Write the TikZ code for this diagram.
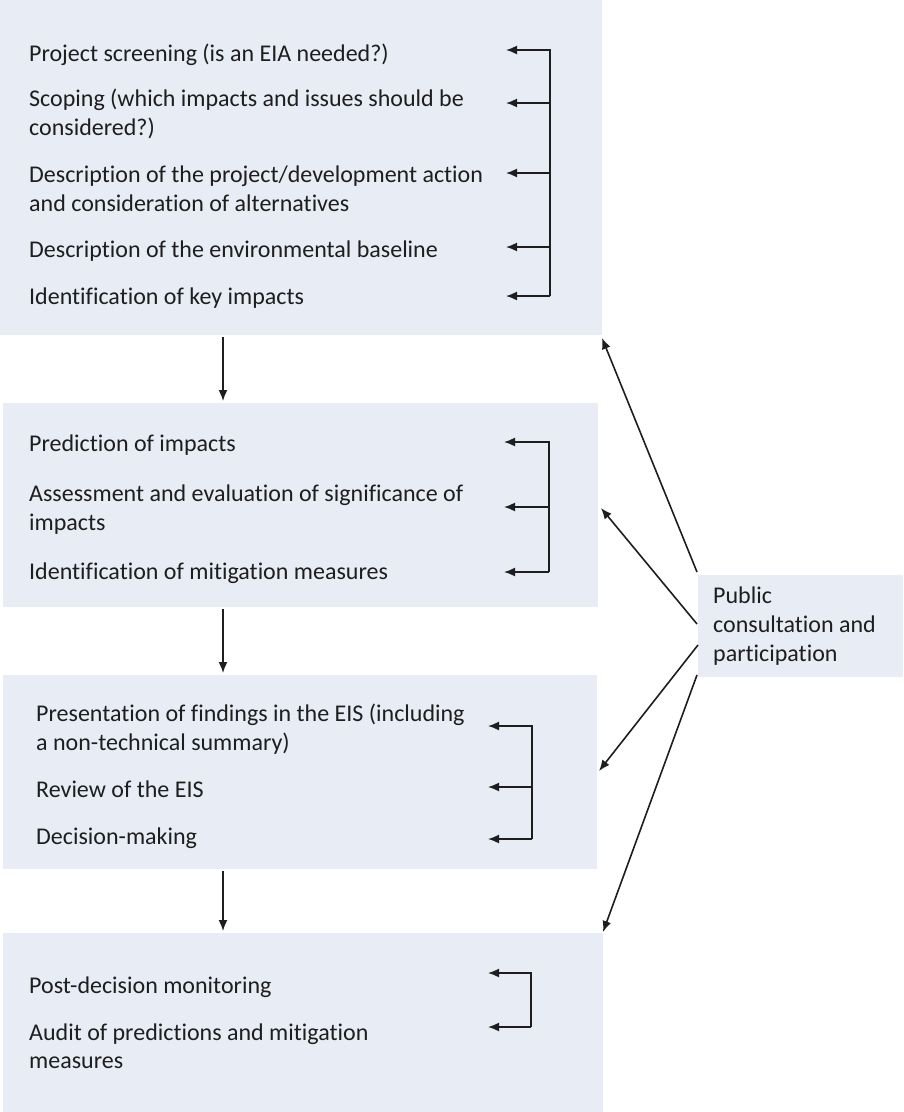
\documentclass[tikz,border=0pt]{standalone}
\usepackage{fontspec}
\setmainfont{Carlito}[Ligatures=NoCommon]
\usetikzlibrary{arrows.meta}
\definecolor{boxblue}{RGB}{231,236,245}
\definecolor{inkgray}{RGB}{30,30,30}
\begin{document}
\begin{tikzpicture}[x=1pt,y=-1pt,
  box/.style={fill=boxblue,draw=none,anchor=north west,inner sep=0pt},
  txt/.style={anchor=base west,inner sep=0pt,text=inkgray,font=\fontsize{24}{29}\selectfont},
  arr/.style={draw=inkgray,line width=1.6pt,-{Latex[length=11pt,width=9pt]}}]
\useasboundingbox (0,0) rectangle (903,1112);
% boxes
\node[box,minimum width=602pt,minimum height=335pt] (B1) at (0,0) {};
\node[box,minimum width=595pt,minimum height=204pt] (B2) at (3,403) {};
\node[box,minimum width=594pt,minimum height=194pt] (B3) at (3,675) {};
\node[box,minimum width=600pt,minimum height=179pt] (B4) at (3,933) {};
\node[box,minimum width=205pt,minimum height=102pt] (P) at (698,575) {};
% box 1 text
\node[txt] (t11) at (29,61) {Project screening (is an EIA needed?)};
\node[txt] (t12) at (29,106) {Scoping (which impacts and issues should be};
\node[txt] (t12b) at (29,135) {considered?)};
\node[txt] (t13) at (29,182) {Description of the project/development action};
\node[txt] (t13b) at (29,211) {and consideration of alternatives};
\node[txt] (t14) at (29,257) {Description of the environmental baseline};
\node[txt] (t15) at (29,304) {Identification of key impacts};
% box 2 text
\node[txt] (t21) at (29,451) {Prediction of impacts};
\node[txt] (t22) at (29,501) {Assessment and evaluation of significance of};
\node[txt] (t22b) at (29,530) {impacts};
\node[txt] (t23) at (29,579) {Identification of mitigation measures};
% box 3 text
\node[txt] (t31) at (36,721) {Presentation of findings in the EIS (including};
\node[txt] (t31b) at (36,750) {a non-technical summary)};
\node[txt] (t32) at (36,797) {Review of the EIS};
\node[txt] (t33) at (36,844) {Decision-making};
% box 4 text
\node[txt] (t41) at (29,993) {Post-decision monitoring};
\node[txt] (t42) at (29,1040) {Audit of predictions and mitigation};
\node[txt] (t42b) at (29,1068) {measures};
% public text
\node[txt] (p1) at (713,603) {Public};
\node[txt] (p2) at (713,632) {consultation and};
\node[txt] (p3) at (713,661) {participation};
% bracket 1
\coordinate (a11) at (506,50);
\coordinate (a12) at (506,103);
\coordinate (a13) at (506,173);
\coordinate (a14) at (506,247);
\coordinate (a15) at (506,296);
\draw[arr] (550,296) -- (550,50) -- (a11);
\draw[arr] (550,296) -- (a15);
\draw[arr] (550,103) -- (a12);
\draw[arr] (550,173) -- (a13);
\draw[arr] (550,247) -- (a14);
% bracket 2
\coordinate (a21) at (504,442);
\coordinate (a22) at (504,507);
\coordinate (a23) at (504,572);
\draw[arr] (549,572) -- (549,442) -- (a21);
\draw[arr] (549,572) -- (a23);
\draw[arr] (549,507) -- (a22);
% bracket 3
\coordinate (a31) at (488,726);
\coordinate (a32) at (488,787);
\coordinate (a33) at (488,839);
\draw[arr] (532,839) -- (532,726) -- (a31);
\draw[arr] (532,839) -- (a33);
\draw[arr] (532,787) -- (a32);
% bracket 4
\coordinate (a41) at (488,973);
\coordinate (a42) at (488,1027);
\draw[arr] (531,1027) -- (531,973) -- (a41);
\draw[arr] (531,1027) -- (a42);
% flow arrows
\coordinate (d1s) at (223,337); \coordinate (d1e) at (223,401);
\coordinate (d2s) at (223,609); \coordinate (d2e) at (223,673);
\coordinate (d3s) at (223,871); \coordinate (d3e) at (223,931);
\draw[arr] (d1s) -- (d1e);
\draw[arr] (d2s) -- (d2e);
\draw[arr] (d3s) -- (d3e);
% public arrows
\coordinate (ps1) at (697,572); \coordinate (pe1) at (602,338);
\coordinate (ps2) at (697,624); \coordinate (pe2) at (601,508);
\coordinate (ps3) at (698,645); \coordinate (pe3) at (599,771);
\coordinate (ps4) at (697,675); \coordinate (pe4) at (603,932);
\draw[arr] (ps1) -- (pe1);
\draw[arr] (ps2) -- (pe2);
\draw[arr] (ps3) -- (pe3);
\draw[arr] (ps4) -- (pe4);
\end{tikzpicture}
\end{document}
